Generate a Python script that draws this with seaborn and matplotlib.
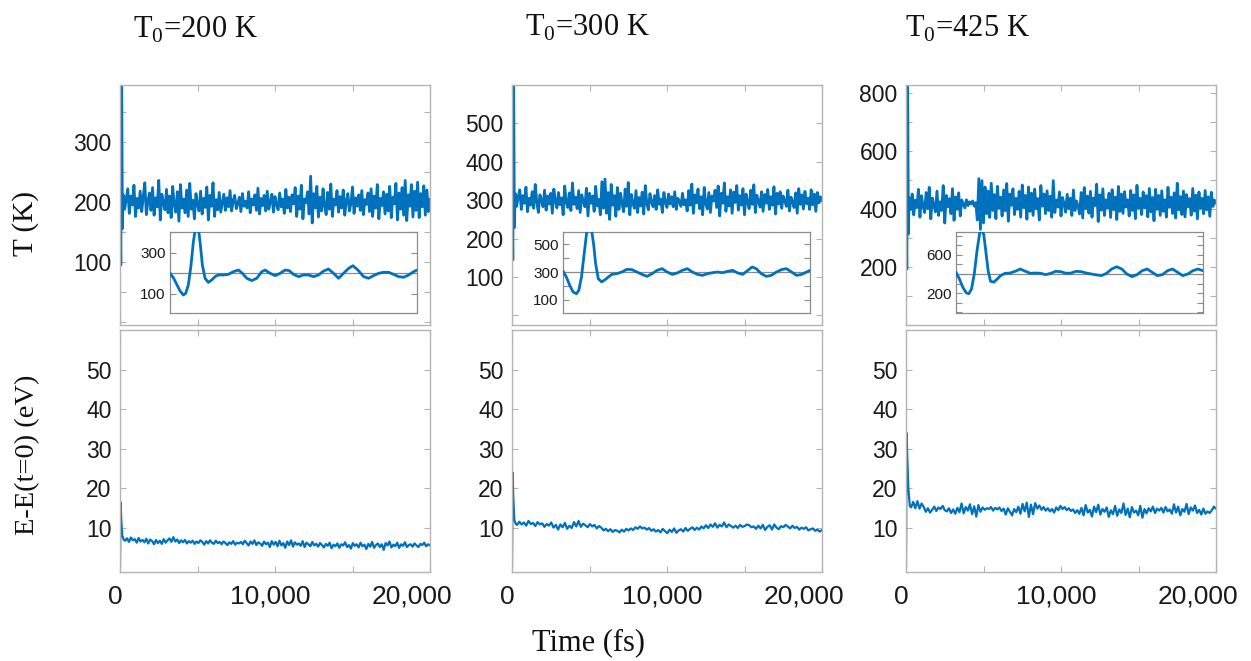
import numpy as np
import pandas as pd
import matplotlib
matplotlib.use("Agg")
import matplotlib.pyplot as plt
import matplotlib.transforms as mtransforms
import seaborn as sns
from matplotlib.ticker import FixedLocator, MultipleLocator

sns.set_theme(style="white")
plt.rcParams["font.family"] = ["Liberation Sans", "DejaVu Sans"]
plt.rcParams["mathtext.fontset"] = "custom"
plt.rcParams["mathtext.rm"] = "Liberation Serif"

BLUE = "#0072BD"

# ---------------- data ----------------
T0_labels = ["200", "300", "425"]

# initial transient of temperature (fs, K)
trans_t_T = [0, 54, 104, 155]
trans_T200 = [200, 95, 425, 156]
trans_T300 = [307, 145, 620, 229]
trans_T425 = [417, 193, 865, 314]

# temperature fluctuation band, 200..20000 fs
T200 = [212, 188, 205, 222, 181, 210, 195, 228, 176, 206,
        190, 218, 184, 209, 232, 179, 201, 215, 186, 224,
        178, 207, 192, 236, 170, 213, 198, 187, 221, 182,
        210, 174, 226, 195, 183, 217, 168, 229, 190, 205,
        182, 220, 176, 231, 188, 203, 172, 214, 196, 185,
        218, 180, 206, 191, 225, 170, 211, 193, 232, 176,
        204, 187, 216, 183, 198, 213, 186, 207, 192, 219,
        185, 202, 211, 189, 197, 208, 184, 214, 193, 201,
        190, 217, 182, 205, 195, 212, 186, 223, 180, 206,
        194, 211, 185, 218, 188, 200, 213, 183, 209, 196,
        187, 215, 192, 205, 181, 221, 190, 208, 184, 212,
        197, 224, 176, 210, 188, 228, 172, 205, 199, 217,
        180, 243, 165, 214, 190, 226, 175, 208, 185, 222,
        193, 179, 216, 188, 230, 176, 205, 195, 219, 183,
        209, 190, 220, 178, 202, 214, 185, 198, 225, 181,
        207, 193, 212, 186, 219, 179, 204, 196, 215, 184,
        222, 176, 210, 190, 229, 172, 206, 194, 217, 180,
        213, 185, 226, 174, 208, 197, 231, 170, 215, 188,
        224, 178, 236, 169, 212, 193, 229, 175, 218, 186,
        233, 174, 214, 192, 227, 178, 220, 184, 205]

T300 = [318, 284, 309, 327, 276, 312, 292, 334, 270, 305,
        287, 322, 279, 341, 296, 268, 314, 301, 283, 326,
        274, 311, 290, 318, 266, 329, 297, 280, 320, 288,
        306, 262, 337, 294, 281, 319, 273, 345, 289, 308,
        278, 325, 268, 314, 296, 283, 331, 259, 318, 292,
        311, 271, 336, 285, 302, 262, 348, 279, 355, 266,
        320, 250, 341, 287, 312, 258, 333, 276, 318, 292,
        270, 329, 284, 346, 262, 315, 291, 279, 325, 268,
        307, 285, 321, 264, 338, 290, 275, 317, 296, 283,
        312, 276, 327, 289, 303, 268, 320, 294, 281, 316,
        290, 309, 283, 322, 276, 305, 297, 284, 318, 288,
        301, 272, 325, 287, 342, 266, 314, 293, 329, 278,
        309, 262, 333, 291, 277, 320, 268, 311, 298, 326,
        281, 337, 259, 318, 292, 345, 271, 309, 285, 327,
        266, 321, 294, 338, 274, 312, 287, 330, 262, 316,
        295, 278, 326, 289, 340, 268, 313, 297, 282, 322,
        271, 315, 292, 328, 276, 309, 287, 335, 264, 318,
        290, 322, 279, 311, 298, 284, 326, 272, 308, 295,
        281, 319, 266, 330, 289, 314, 277, 323, 291, 305,
        276, 327, 288, 316, 271, 320, 293, 309, 298]

T425 = [440, 398, 452, 380, 431, 405, 468, 372, 446, 410,
        388, 457, 401, 475, 366, 438, 412, 390, 462, 378,
        425, 395, 481, 352, 447, 408, 436, 384, 470, 361,
        442, 399, 456, 376, 431, 418, 404, 432, 412, 425,
        418, 428, 410, 422, 362, 505, 330, 498, 352, 476,
        384, 462, 371, 489, 395, 450, 367, 478, 402, 441,
        376, 466, 394, 488, 358, 452, 413, 470, 381, 437,
        399, 461, 372, 483, 405, 447, 365, 476, 392, 455,
        378, 469, 401, 436, 362, 481, 410, 452, 384, 463,
        395, 444, 372, 498, 388, 431, 407, 459, 376, 440,
        418, 389, 451, 401, 437, 378, 466, 395, 428, 410,
        383, 457, 369, 474, 401, 445, 386, 461, 372, 438,
        412, 486, 357, 449, 396, 470, 378, 432, 403, 455,
        371, 467, 398, 441, 364, 478, 392, 452, 385, 460,
        407, 432, 376, 464, 395, 449, 367, 482, 402, 437,
        381, 459, 404, 446, 373, 471, 390, 440, 360, 468,
        399, 447, 378, 463, 392, 432, 372, 475, 406, 441,
        385, 456, 369, 489, 397, 443, 381, 462, 373, 450,
        408, 436, 379, 471, 393, 448, 366, 459, 402, 437,
        384, 464, 397, 442, 375, 458, 409, 431, 420]

# energy transient (fs, eV)
trans_t_E = [0, 40, 80, 150, 250]
trans_E200 = [0, 16.5, 12, 8, 7]
trans_E300 = [0, 24, 18, 12, 11]
trans_E425 = [0, 34, 28, 20, 15.5]

E200 = [6.8, 7.4, 6.5, 7.6, 6.9, 7.2, 6.3, 7.5, 6.6, 7.0,
        6.4, 7.3, 6.1, 7.1, 6.7, 5.9, 7.0, 6.2, 6.8, 6.0,
        7.2, 6.3, 6.9, 7.4, 6.5, 7.7, 6.6, 7.1, 6.2, 6.9,
        6.4, 7.0, 6.1, 6.7, 6.3, 6.8, 6.0, 6.6, 6.2, 6.9,
        6.5, 5.8, 6.7, 6.1, 6.9, 6.3, 6.0, 6.8, 6.2, 6.5,
        5.9, 6.6, 6.2, 5.7, 6.4, 6.0, 6.7, 5.8, 6.3, 6.1,
        6.5, 5.9, 6.8, 6.2, 5.6, 6.6, 6.0, 6.9, 5.7, 6.4,
        6.1, 5.5, 6.6, 5.9, 6.3, 5.2, 6.7, 5.8, 6.5, 5.4,
        6.8, 5.6, 6.2, 5.0, 6.6, 5.7, 6.9, 5.3, 6.4, 5.8,
        6.1, 5.5, 6.7, 5.2, 6.3, 5.9, 5.4, 6.5, 5.6, 6.0,
        5.3, 6.2, 5.7, 5.1, 6.0, 5.5, 6.3, 4.9, 5.8, 5.4,
        6.1, 5.0, 5.9, 5.6, 6.4, 5.2, 5.7, 4.8, 6.2, 5.5,
        5.9, 5.1, 6.3, 5.4, 5.8, 4.7, 6.0, 5.3, 6.5, 5.0,
        5.7, 6.1, 5.2, 5.9, 4.5, 6.2, 5.6, 6.6, 5.1, 5.8,
        5.4, 6.3, 5.0, 5.9, 5.5, 6.4, 5.2, 5.7, 5.9, 5.3,
        6.1, 5.6, 5.2, 6.0, 5.7, 6.3, 5.4, 5.9, 5.6]

E300 = [10.8, 11.6, 10.9, 11.4, 10.6, 11.8, 11.0, 11.3, 10.5, 11.5,
        10.9, 11.2, 10.3, 11.0, 10.6, 11.4, 10.1, 10.8, 9.6, 10.9,
        10.2, 11.3, 9.8, 10.6, 10.0, 11.5, 10.4, 11.8, 10.3, 11.1,
        10.7, 10.2, 11.0, 10.4, 10.8, 9.9, 10.5, 10.1, 9.4, 9.8,
        9.2, 9.7, 9.0, 9.5, 9.3, 8.9, 9.6, 9.1, 9.8, 9.4,
        9.9, 9.5, 10.2, 9.8, 10.4, 9.9, 10.1, 9.6, 10.0, 9.3,
        9.7, 9.1, 9.5, 8.9, 9.8, 9.2, 8.7, 9.6, 9.0, 9.9,
        8.8, 9.4, 9.7, 9.1, 10.0, 9.3, 9.8, 10.2, 9.5, 10.1,
        9.6, 10.4, 9.9, 10.7, 10.0, 10.9, 10.3, 11.2, 10.1, 10.8,
        10.4, 11.4, 10.2, 10.9, 10.5, 10.1, 10.6, 10.0, 10.8, 10.3,
        10.5, 10.9, 10.7, 10.2, 10.4, 9.8, 10.6, 9.9, 10.8, 9.5,
        10.3, 10.7, 9.6, 10.9, 10.1, 9.7, 10.5, 10.2, 10.8, 10.4,
        9.9, 10.6, 10.0, 10.3, 9.6, 10.1, 9.8, 10.2, 9.4, 9.7,
        9.9, 9.3, 9.6, 9.1, 9.5]

E425 = [15.2, 16.6, 15.0, 16.8, 14.9, 16.2, 15.3, 14.1, 15.0, 13.9,
        14.6, 15.4, 14.3, 15.2, 14.8, 15.6, 14.5, 14.2, 15.0, 13.8,
        14.7, 13.6, 15.1, 14.0, 16.2, 13.7, 15.3, 14.4, 16.0, 13.5,
        15.5, 12.9, 15.8, 14.1, 15.2, 14.6, 15.0, 14.8, 15.3, 14.4,
        15.1, 14.7, 15.2, 14.3, 14.9, 13.4, 15.0, 14.1, 13.2, 14.8,
        14.0, 15.4, 13.6, 16.1, 14.2, 16.4, 12.8, 15.9, 13.5, 16.3,
        14.9, 15.7, 14.6, 15.3, 14.4, 15.0, 14.2, 14.8, 13.9, 15.2,
        14.5, 15.6, 14.8, 15.3, 14.5, 15.0, 14.3, 14.7, 13.8, 14.5,
        13.6, 15.1, 13.2, 15.8, 13.9, 14.6, 12.9, 15.4, 14.0, 15.9,
        13.4, 14.8, 14.1, 15.2, 12.8, 14.5, 13.5, 15.6, 13.1, 14.7,
        13.8, 16.2, 13.3, 14.9, 12.7, 15.3, 13.9, 14.4, 13.2, 15.6,
        12.6, 14.8, 13.7, 15.0, 14.2, 15.4, 13.8, 14.9, 14.4, 15.1,
        13.9, 15.3, 14.2, 14.7, 13.6, 16.0, 13.9, 15.4, 13.2, 14.8,
        14.1, 16.1, 13.5, 15.2, 14.4, 15.7, 13.8, 14.6, 13.4, 14.9,
        13.6, 14.2, 13.8, 14.5, 15.4, 14.9]

# inset: first part of the run (fs, K)
ins_t200 = [0, 10, 20, 30, 40, 47, 55, 63, 70, 77, 85, 91, 97, 105, 115,
            125, 135, 145, 160, 175, 190, 205, 217, 230, 245, 260, 275, 285,
            300, 315, 330, 345, 357, 370, 385, 400, 415, 430, 445, 460, 475,
            490, 505, 520, 535, 548, 563, 580, 595, 610, 625, 640, 655, 670,
            685, 700, 715, 730, 740]
ins_T200 = [200, 179, 147, 115, 95, 103, 144, 240, 353, 425, 420, 337, 240,
            176, 156, 168, 184, 192, 192, 195, 208, 216, 200, 176, 165, 176,
            208, 216, 200, 189, 200, 216, 213, 195, 184, 192, 192, 184, 192,
            211, 221, 200, 176, 200, 224, 237, 216, 184, 176, 189, 200, 205,
            205, 195, 184, 181, 192, 208, 216]
ins_t300 = [0, 10, 20, 30, 40, 47, 55, 63, 70, 77, 85, 91, 97, 105, 115,
            125, 135, 145, 160, 175, 190, 205, 220, 235, 250, 265, 280, 295,
            310, 325, 340, 355, 370, 385, 400, 415, 430, 445, 460, 475, 490,
            505, 520, 535, 550, 563, 575, 590, 605, 620, 635, 650, 665, 680,
            695, 710, 725, 735]
ins_T300 = [307, 264, 205, 157, 145, 169, 264, 431, 574, 620, 598, 502, 360,
            252, 229, 245, 264, 283, 288, 300, 319, 317, 300, 283, 269, 288,
            312, 324, 300, 283, 293, 312, 324, 300, 283, 276, 288, 295, 300,
            295, 305, 312, 293, 283, 312, 336, 324, 288, 269, 276, 300, 317,
            324, 300, 276, 283, 300, 312]
ins_t425 = [0, 10, 20, 30, 38, 46, 54, 62, 70, 76, 82, 88, 95, 102, 112, 122,
            132, 145, 160, 175, 190, 205, 220, 235, 250, 265, 280, 295, 310,
            325, 340, 355, 370, 385, 400, 415, 430, 445, 460, 475, 490, 505,
            520, 535, 550, 565, 580, 595, 610, 625, 640, 655, 670, 685, 700,
            715, 730]
ins_T425 = [417, 348, 262, 203, 193, 245, 400, 641, 831, 865, 814, 641, 434,
            324, 314, 348, 383, 407, 410, 428, 452, 428, 407, 410, 407, 393,
            407, 428, 424, 407, 410, 428, 424, 410, 400, 390, 383, 407, 452,
            476, 452, 400, 372, 393, 434, 452, 417, 383, 393, 434, 452, 417,
            383, 400, 434, 452, 434]

x_tick_vals = [0, 10000, 20000]
x_tick_labels = ["0", "10,000", "20,000"]

# ---------------- figure ----------------
W, H = 1251, 661
fig = plt.figure(figsize=(W / 100, H / 100), dpi=100)
fig.patch.set_facecolor("white")


def box(l, t, r, b):
    return [l / W, 1 - b / H, (r - l) / W, (b - t) / H]


SPINE = "#b4b4b4"


def style_main(ax):
    for s in ax.spines.values():
        s.set_color(SPINE)
        s.set_linewidth(1.0)
    ax.set_xlim(0, 20000)
    ax.xaxis.set_major_locator(FixedLocator(x_tick_vals))
    ax.xaxis.set_minor_locator(MultipleLocator(5000))
    ax.tick_params(which="both", direction="in", top=True, right=True,
                   bottom=True, left=True, color=SPINE, width=0.8, length=4)
    ax.tick_params(axis="y", labelsize=16.5, pad=6, labelcolor="#1a1a1a")
    ax.set_xlabel("")
    ax.set_ylabel("")
    ax.grid(False)


lefts = [120, 512, 906]
panel_w = 310
T_series = [(trans_T200, T200), (trans_T300, T300), (trans_T425, T425)]
E_series = [(trans_E200, E200), (trans_E300, E300), (trans_E425, E425)]
T_ylims = [(-5, 395), (-25, 600), (0, 828)]
T_major = [[100, 200, 300], [100, 200, 300, 400, 500], [200, 400, 600, 800]]
T_minor = [50, 100, 100]
ins_data = [(ins_t200, ins_T200), (ins_t300, ins_T300), (ins_t425, ins_T425)]
ins_xlim = [740, 735, 730]
ins_ylims = [(8, 400), (7, 586), (-9, 840)]
ins_labels = [[100, 300], [100, 300, 500], [200, 600]]
ins_ref = [200, 300, 400]
ins_lefts = [170, 563, 956]
ins_w = 247
xlabel_shift_px = [-5, -5, -18]

for i in range(3):
    L = lefts[i]
    # --- temperature panel ---
    axT = fig.add_axes(box(L, 85, L + panel_w, 325))
    tr, band = T_series[i]
    t_all = list(trans_t_T) + list(np.linspace(200, 20000, len(band)))
    dfT = pd.DataFrame({"t": t_all, "T": list(tr) + list(band)})
    sns.lineplot(data=dfT, x="t", y="T", ax=axT, color=BLUE, linewidth=2.0,
                 estimator=None, sort=False, legend=False)
    style_main(axT)
    axT.set_ylim(*T_ylims[i])
    axT.yaxis.set_major_locator(FixedLocator(T_major[i]))
    axT.yaxis.set_minor_locator(MultipleLocator(T_minor[i]))
    axT.tick_params(axis="x", labelbottom=False)

    # --- energy panel ---
    axE = fig.add_axes(box(L, 330, L + panel_w, 572))
    trE, bandE = E_series[i]
    tE = list(trans_t_E) + list(np.linspace(330, 20000, len(bandE)))
    dfE = pd.DataFrame({"t": tE, "E": list(trE) + list(bandE)})
    sns.lineplot(data=dfE, x="t", y="E", ax=axE, color=BLUE, linewidth=1.6,
                 estimator=None, sort=False, legend=False)
    style_main(axE)
    axE.set_ylim(-1.1, 60)
    axE.yaxis.set_major_locator(FixedLocator([10, 20, 30, 40, 50]))
    axE.yaxis.set_minor_locator(FixedLocator([]))
    axE.set_xticklabels(x_tick_labels)
    axE.tick_params(axis="x", labelsize=19, pad=9, labelcolor="#1a1a1a")
    for lab, dx in zip(axE.get_xticklabels(), xlabel_shift_px):
        off = mtransforms.ScaledTranslation(dx / 100, 0, fig.dpi_scale_trans)
        lab.set_transform(lab.get_transform() + off)

    # --- inset ---
    IL = ins_lefts[i]
    axI = fig.add_axes(box(IL, 232, IL + ins_w, 313))
    axI.set_facecolor("white")
    axI.set_zorder(5)
    axI.axhline(ins_ref[i], color="#8a8a8a", linewidth=0.9, zorder=1)
    it, iv = ins_data[i]
    sns.lineplot(x=it, y=iv, ax=axI, color=BLUE, linewidth=2.0,
                 estimator=None, sort=False, legend=False, zorder=3)
    axI.set_xlim(0, ins_xlim[i])
    axI.set_ylim(*ins_ylims[i])
    axI.set_xticks([])
    axI.yaxis.set_major_locator(FixedLocator(ins_labels[i]))
    axI.yaxis.set_minor_locator(MultipleLocator(100))
    for s in axI.spines.values():
        s.set_color("#8c8c8c")
        s.set_linewidth(0.9)
    axI.tick_params(which="both", direction="in", left=True, right=True,
                    color="#8c8c8c", width=0.8, length=4)
    axI.tick_params(axis="y", labelsize=11, pad=3, labelcolor="#1a1a1a")
    axI.set_xlabel("")
    axI.set_ylabel("")
    axI.grid(False)

# titles
title_pos = [(133, 38), (525, 36), (905, 37)]
for (x, y), lab in zip(title_pos, T0_labels):
    fig.text(x / W, 1 - y / H, r"T$_{\mathrm{0}}$=" + lab + " K",
             family="Liberation Serif", fontsize=22, ha="left",
             va="baseline", color="#111111")

fig.text(26 / W, 1 - 224 / H, "T (K)", family="Liberation Serif",
         fontsize=21, rotation=90, ha="center", va="center", color="#111111")
fig.text(28 / W, 1 - 455 / H, "E-E(t=0) (eV)", family="Liberation Serif",
         fontsize=20.5, rotation=90, ha="center", va="center", color="#111111")
fig.text(588 / W, 1 - 643 / H, "Time (fs)", family="Liberation Serif",
         fontsize=22, ha="center", va="center", color="#111111")

fig.savefig("out.png", dpi=100, facecolor="white")
